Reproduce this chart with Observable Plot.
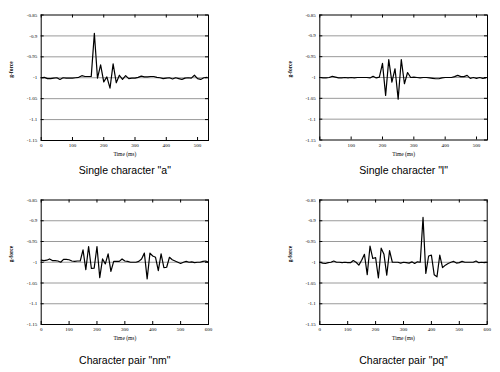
<!DOCTYPE html>
<html>
<head>
<meta charset="utf-8">
<script src="https://cdn.jsdelivr.net/npm/d3@7"></script>
<script src="https://cdn.jsdelivr.net/npm/@observablehq/plot@0.6"></script>
<style>
html, body { margin: 0; padding: 0; background: #fff; }
#root { position: relative; width: 500px; height: 372px; overflow: hidden; }
#root svg { position: absolute; }
</style>
</head>
<body>
<div id="root"></div>
<script>
// Sampling times (ms)
const timeShort = [0,10,20,30,40,50,60,70,80,90,100,110,120,130,140,150,160,170,180,190,200,210,220,230,240,250,260,270,280,290,300,310,320,330,340,350,360,370,380,390,400,410,420,430,440,450,460,470,480,490,500,510,520,530];
const timeLong = [0,10,20,30,40,50,60,70,80,90,100,110,120,130,140,150,160,170,180,190,200,210,220,230,240,250,260,270,280,290,300,310,320,330,340,350,360,370,380,390,400,410,420,430,440,450,460,470,480,490,500,510,520,530,540,550,560,570,580,590,600];

// Single character "a"
const valuesA = [-1.0,-0.999,-1.002,-1.002,-1.001,-1.0,-1.004,-1.0,-1.001,-1.001,
  -1.001,-1.0,-0.999,-0.995,-0.997,-0.997,-0.997,-0.894,-1.001,-0.969,
  -1.010,-0.998,-1.025,-0.967,-1.012,-0.994,-1.004,-0.995,-1.002,-1.001,
  -1.001,-0.999,-0.996,-0.998,-0.998,-0.997,-0.997,-0.999,-1.0,-1.002,
  -1.001,-1.0,-1.003,-1.0,-1.002,-1.004,-1.001,-1.0,-1.001,-0.994,
  -1.002,-1.004,-1.0,-0.999];

// Single character "l"
const valuesL = [-1.0,-1.001,-1.001,-1.0,-0.997,-0.999,-1.001,-1.001,-1.0,-1.001,
  -1.0,-1.001,-1.0,-1.0,-1.0,-1.0,-1.001,-0.997,-1.001,-0.999,
  -0.966,-1.043,-0.957,-1.011,-0.979,-1.052,-0.957,-1.015,-0.988,-1.0,
  -0.999,-1.0,-1.001,-1.0,-1.0,-1.001,-1.002,-1.003,-1.003,-1.001,
  -1.0,-1.0,-1.0,-0.998,-0.995,-0.998,-0.998,-0.995,-1.002,-1.0,
  -1.002,-1.0,-1.002,-1.001];

// Character pair "nm"
const valuesNM = [-0.995,-0.996,-0.995,-0.992,-0.996,-0.996,-0.997,-1.0,-0.993,-0.993,
  -0.994,-0.997,-0.998,-0.997,-0.997,-0.970,-1.018,-0.962,-1.015,-1.014,
  -0.962,-1.037,-0.992,-1.004,-0.980,-1.022,-0.998,-0.998,-0.998,-0.992,
  -0.997,-0.998,-1.0,-1.0,-1.0,-0.998,-0.992,-0.978,-1.040,-0.978,
  -0.985,-0.988,-1.020,-0.980,-1.013,-1.012,-0.988,-0.994,-0.997,-1.0,
  -1.003,-1.0,-0.998,-1.0,-0.999,-1.001,-1.0,-1.0,-0.998,-0.997,
  -1.0];

// Character pair "pq"
const valuesPQ = [-1.0,-1.002,-1.003,-1.001,-1.0,-0.997,-1.0,-1.0,-1.001,-1.0,
  -1.001,-1.001,-0.996,-1.0,-1.007,-0.995,-0.981,-1.030,-0.961,-0.991,
  -0.989,-1.038,-0.966,-0.981,-1.031,-0.972,-1.0,-1.0,-1.0,-1.002,
  -1.0,-1.001,-1.002,-0.999,-1.003,-0.999,-1.0,-0.892,-1.027,-0.985,
  -0.983,-1.030,-1.035,-0.983,-1.013,-1.007,-1.003,-1.0,-0.998,-1.002,
  -1.001,-0.998,-1.0,-1.0,-1.0,-1.0,-0.997,-1.001,-1.0,-1.001,
  -1.0];

const yTicks = [-1.15,-1.1,-1.05,-1,-0.95,-0.9,-0.85];
const gridValues = [-1.1,-1.05,-1,-0.95,-0.9];
const xTicksShort = [0,100,200,300,400,500];
const xTicksLong = [0,100,200,300,400,500,600];
const titles = ['Single character "a"', 'Single character "l"', 'Character pair "nm"', 'Character pair "pq"'];
const xLabel = "Time (ms)";
const yLabel = "g-force";

const root = document.getElementById("root");

function panel(cfg) {
  const data = cfg.times.map((t, i) => ({t, v: cfg.values[i]}));
  const W = 250, H = 186;
  const innerH = H - cfg.mt - cfg.mb;
  const innerW = W - cfg.ml - cfg.mr;
  const fig = Plot.plot({
    width: W, height: H,
    marginLeft: cfg.ml, marginRight: cfg.mr, marginTop: cfg.mt, marginBottom: cfg.mb,
    style: {fontFamily: "'Liberation Serif', 'DejaVu Serif', serif", fontSize: "5px", background: "transparent", color: "#000", overflow: "visible"},
    x: {domain: [0, cfg.xmax], ticks: cfg.xTicks, tickSize: 0, tickPadding: 3, label: null, tickFormat: d => String(d)},
    y: {domain: [-1.15, -0.85], ticks: yTicks, tickSize: 0, tickPadding: 4, label: null, tickFormat: d => String(+d.toFixed(2))},
    marks: [
      Plot.ruleY(gridValues, {y: d => d, stroke: "#9a9a9a", strokeWidth: 1}),
      Plot.ruleX(cfg.xTicks, {x: d => d, insetTop: innerH - 3, stroke: "#000"}),
      Plot.ruleX(cfg.xTicks, {x: d => d, insetBottom: innerH - 3, stroke: "#000"}),
      Plot.ruleY(yTicks, {y: d => d, insetRight: innerW - 3, stroke: "#000"}),
      Plot.ruleY(yTicks, {y: d => d, insetLeft: innerW - 3, stroke: "#000"}),
      Plot.line(data, {x: "t", y: "v", stroke: "#000", strokeWidth: 1.2}),
      Plot.frame({stroke: "#000", strokeWidth: 1}),
      Plot.text([xLabel], {frameAnchor: "bottom", dy: 15.5, fontSize: 5.5}),
      Plot.text([yLabel], {frameAnchor: "left", dx: -30, rotate: -90, fontSize: 5.5, fontWeight: "bold"}),
      Plot.text([cfg.title], {frameAnchor: "bottom", dy: cfg.titleDy, fontSize: 10.5, fontFamily: "'Liberation Sans', Arial, sans-serif"})
    ]
  });
  fig.style.left = cfg.left + "px";
  fig.style.top = cfg.top + "px";
  root.appendChild(fig);
}

panel({times: timeShort, values: valuesA, xmax: 535, xTicks: xTicksShort, title: titles[0], left: 0, top: 0, ml: 40.7, mr: 42, mt: 14.5, mb: 46, titleDy: 33});
panel({times: timeShort, values: valuesL, xmax: 535, xTicks: xTicksShort, title: titles[1], left: 250, top: 0, ml: 69.3, mr: 13, mt: 14.5, mb: 46.5, titleDy: 33.5});
panel({times: timeLong, values: valuesNM, xmax: 600, xTicks: xTicksLong, title: titles[2], left: 0, top: 186, ml: 40.7, mr: 42, mt: 13.5, mb: 48, titleDy: 39});
panel({times: timeLong, values: valuesPQ, xmax: 600, xTicks: xTicksLong, title: titles[3], left: 250, top: 186, ml: 69.3, mr: 13.3, mt: 13.5, mb: 48, titleDy: 39});
</script>
</body>
</html>
